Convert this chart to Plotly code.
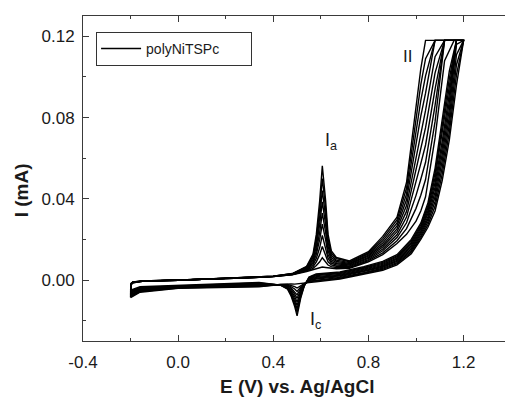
import plotly.graph_objects as go

# Potential grids (V vs. Ag/AgCl)
E_forward = [-0.200, -0.197, -0.190, -0.150, 0.000, 0.150, 0.300, 0.400, 0.480, 0.540,
             0.567, 0.581, 0.595, 0.606, 0.620, 0.630, 0.644, 0.665, 0.720, 0.800,
             0.860, 0.920, 0.960, 1.000, 1.020, 1.040, 1.080, 1.120, 1.160, 1.200]
E_reverse = [1.200, 1.170, 1.140, 1.110, 1.080, 1.050, 1.020, 0.980, 0.920, 0.860,
             0.780, 0.680, 0.580, 0.550, 0.530, 0.515, 0.500, 0.490, 0.475, 0.460,
             0.430, 0.340, 0.160, 0.000, -0.160, -0.200]

# Current (mA), forward sweep, per cycle
fwd_c01 = [-0.0050, -0.0015, -0.0009, -0.0004, 0.0000, 0.0005, 0.0011, 0.0017, 0.0026, 0.0042, 0.0050, 0.0055, 0.0060, 0.0064, 0.0062, 0.0060, 0.0058, 0.0056, 0.0058, 0.0090, 0.0125, 0.0180, 0.0225, 0.0290, 0.0340, 0.0410, 0.0700, 0.1080, 0.1180, 0.1180]
fwd_c02 = [-0.0086, -0.0016, -0.0009, -0.0004, 0.0000, 0.0005, 0.0011, 0.0017, 0.0027, 0.0045, 0.0058, 0.0072, 0.0090, 0.0110, 0.0090, 0.0074, 0.0066, 0.0062, 0.0062, 0.0096, 0.0134, 0.0194, 0.0253, 0.0353, 0.0418, 0.0495, 0.0780, 0.1180, 0.1180, 0.1180]
fwd_c03 = [-0.0082, -0.0017, -0.0010, -0.0004, 0.0000, 0.0005, 0.0011, 0.0017, 0.0027, 0.0048, 0.0066, 0.0090, 0.0125, 0.0165, 0.0125, 0.0090, 0.0075, 0.0068, 0.0066, 0.0101, 0.0144, 0.0209, 0.0282, 0.0417, 0.0496, 0.0580, 0.0860, 0.1180, 0.1180, 0.1180]
fwd_c04 = [-0.0078, -0.0017, -0.0010, -0.0005, 0.0000, 0.0005, 0.0011, 0.0018, 0.0028, 0.0050, 0.0075, 0.0108, 0.0160, 0.0220, 0.0160, 0.0108, 0.0083, 0.0074, 0.0070, 0.0107, 0.0153, 0.0223, 0.0310, 0.0480, 0.0573, 0.0665, 0.0940, 0.1180, 0.1180, 0.1180]
fwd_c05 = [-0.0074, -0.0018, -0.0011, -0.0005, -0.0001, 0.0006, 0.0011, 0.0018, 0.0029, 0.0053, 0.0083, 0.0127, 0.0200, 0.0275, 0.0198, 0.0126, 0.0092, 0.0080, 0.0074, 0.0112, 0.0163, 0.0238, 0.0338, 0.0543, 0.0651, 0.0750, 0.1020, 0.1180, 0.1180, 0.1180]
fwd_c06 = [-0.0070, -0.0019, -0.0011, -0.0005, -0.0001, 0.0006, 0.0012, 0.0018, 0.0029, 0.0056, 0.0092, 0.0145, 0.0235, 0.0330, 0.0235, 0.0145, 0.0101, 0.0086, 0.0078, 0.0118, 0.0172, 0.0252, 0.0367, 0.0607, 0.0729, 0.0835, 0.1100, 0.1180, 0.1180, 0.1180]
fwd_c07 = [-0.0066, -0.0020, -0.0012, -0.0005, -0.0001, 0.0006, 0.0012, 0.0018, 0.0030, 0.0059, 0.0100, 0.0165, 0.0275, 0.0385, 0.0272, 0.0165, 0.0111, 0.0092, 0.0082, 0.0123, 0.0182, 0.0267, 0.0395, 0.0670, 0.0807, 0.0920, 0.1180, 0.1180, 0.1180, 0.1180]
fwd_c08 = [-0.0062, -0.0020, -0.0012, -0.0006, -0.0001, 0.0006, 0.0012, 0.0019, 0.0031, 0.0062, 0.0110, 0.0185, 0.0310, 0.0440, 0.0310, 0.0185, 0.0122, 0.0098, 0.0086, 0.0129, 0.0193, 0.0281, 0.0423, 0.0733, 0.0884, 0.1005, 0.1180, 0.1180, 0.1180, 0.1180]
fwd_c09 = [-0.0058, -0.0021, -0.0013, -0.0006, -0.0001, 0.0006, 0.0012, 0.0019, 0.0031, 0.0065, 0.0119, 0.0205, 0.0350, 0.0500, 0.0350, 0.0205, 0.0133, 0.0105, 0.0090, 0.0134, 0.0204, 0.0296, 0.0452, 0.0797, 0.0962, 0.1090, 0.1180, 0.1180, 0.1180, 0.1180]
fwd_c10 = [-0.0054, -0.0022, -0.0013, -0.0006, -0.0001, 0.0006, 0.0012, 0.0019, 0.0032, 0.0068, 0.0128, 0.0226, 0.0390, 0.0562, 0.0390, 0.0226, 0.0144, 0.0111, 0.0094, 0.0140, 0.0215, 0.0310, 0.0480, 0.0860, 0.1040, 0.1180, 0.1180, 0.1180, 0.1180, 0.1180]

# Current (mA), reverse sweep, per cycle
rev_c01 = [0.1180, 0.0960, 0.0690, 0.0490, 0.0340, 0.0260, 0.0200, 0.0130, 0.0075, 0.0048, 0.0028, 0.0005, -0.0008, -0.0012, -0.0015, -0.0018, -0.0022, -0.0020, -0.0019, -0.0019, -0.0022, -0.0033, -0.0037, -0.0040, -0.0060, -0.0086]
rev_c02 = [0.1180, 0.1010, 0.0728, 0.0522, 0.0363, 0.0273, 0.0209, 0.0138, 0.0081, 0.0053, 0.0032, 0.0009, -0.0004, -0.0009, -0.0017, -0.0026, -0.0039, -0.0032, -0.0026, -0.0022, -0.0022, -0.0031, -0.0035, -0.0039, -0.0057, -0.0082]
rev_c03 = [0.1180, 0.1060, 0.0766, 0.0554, 0.0387, 0.0287, 0.0218, 0.0146, 0.0086, 0.0058, 0.0036, 0.0013, 0.0000, -0.0006, -0.0018, -0.0034, -0.0056, -0.0044, -0.0033, -0.0025, -0.0023, -0.0028, -0.0033, -0.0037, -0.0054, -0.0078]
rev_c04 = [0.1180, 0.1110, 0.0803, 0.0587, 0.0410, 0.0300, 0.0227, 0.0153, 0.0092, 0.0063, 0.0041, 0.0017, 0.0005, -0.0003, -0.0020, -0.0042, -0.0073, -0.0057, -0.0039, -0.0028, -0.0023, -0.0026, -0.0031, -0.0036, -0.0051, -0.0074]
rev_c05 = [0.1180, 0.1160, 0.0841, 0.0619, 0.0433, 0.0313, 0.0236, 0.0161, 0.0097, 0.0068, 0.0045, 0.0021, 0.0009, 0.0000, -0.0022, -0.0050, -0.0090, -0.0069, -0.0046, -0.0031, -0.0023, -0.0024, -0.0029, -0.0035, -0.0048, -0.0070]
rev_c06 = [0.1180, 0.1180, 0.0879, 0.0651, 0.0457, 0.0327, 0.0244, 0.0169, 0.0103, 0.0072, 0.0049, 0.0024, 0.0013, 0.0003, -0.0023, -0.0058, -0.0108, -0.0081, -0.0053, -0.0033, -0.0024, -0.0021, -0.0028, -0.0033, -0.0045, -0.0066]
rev_c07 = [0.1180, 0.1180, 0.0917, 0.0683, 0.0480, 0.0340, 0.0253, 0.0177, 0.0108, 0.0077, 0.0053, 0.0028, 0.0017, 0.0006, -0.0025, -0.0066, -0.0125, -0.0093, -0.0060, -0.0036, -0.0024, -0.0019, -0.0026, -0.0032, -0.0042, -0.0062]
rev_c08 = [0.1180, 0.1180, 0.0954, 0.0716, 0.0503, 0.0353, 0.0262, 0.0184, 0.0114, 0.0082, 0.0058, 0.0032, 0.0022, 0.0009, -0.0027, -0.0074, -0.0142, -0.0106, -0.0066, -0.0039, -0.0024, -0.0017, -0.0024, -0.0031, -0.0039, -0.0058]
rev_c09 = [0.1180, 0.1180, 0.0992, 0.0748, 0.0527, 0.0367, 0.0271, 0.0192, 0.0119, 0.0087, 0.0062, 0.0036, 0.0026, 0.0012, -0.0028, -0.0082, -0.0159, -0.0118, -0.0073, -0.0042, -0.0025, -0.0014, -0.0022, -0.0029, -0.0036, -0.0054]
rev_c10 = [0.1180, 0.1180, 0.1030, 0.0780, 0.0550, 0.0380, 0.0280, 0.0200, 0.0125, 0.0092, 0.0066, 0.0040, 0.0030, 0.0015, -0.0030, -0.0090, -0.0176, -0.0130, -0.0080, -0.0045, -0.0025, -0.0012, -0.0020, -0.0028, -0.0033, -0.0050]

forward_sweeps = [fwd_c01, fwd_c02, fwd_c03, fwd_c04, fwd_c05, fwd_c06, fwd_c07, fwd_c08, fwd_c09, fwd_c10]
reverse_sweeps = [rev_c01, rev_c02, rev_c03, rev_c04, rev_c05, rev_c06, rev_c07, rev_c08, rev_c09, rev_c10]

series_name = "polyNiTSPc"
x_ticks = [-0.4, 0.0, 0.4, 0.8, 1.2]
x_ticklabels = ["-0.4", "0.0", "0.4", "0.8", "1.2"]
y_ticks = [0.00, 0.04, 0.08, 0.12]
y_ticklabels = ["0.00", "0.04", "0.08", "0.12"]

FONT = "Liberation Sans, Arial, sans-serif"
INK = "#1a1a1a"

fig = go.Figure()
for i, (fw, rv) in enumerate(zip(forward_sweeps, reverse_sweeps)):
    fig.add_trace(go.Scatter(
        x=E_forward + E_reverse, y=fw + rv, mode="lines",
        line=dict(color="black", width=1.4),
        name=series_name, showlegend=(i == 0), legendgroup="cv",
    ))

axis_common = dict(
    showline=True, linecolor="#3a3a3a", linewidth=1, ticks="inside", ticklen=6,
    tickcolor="#3a3a3a", showgrid=False, zeroline=False,
    tickfont=dict(family=FONT, size=17, color=INK),
)
fig.update_xaxes(
    range=[-0.4, 1.374], tickvals=x_ticks, ticktext=x_ticklabels, mirror="ticks",
    minor=dict(dtick=0.2, tick0=0, ticks="inside", ticklen=3, tickcolor="#3a3a3a"),
    ticklabelstandoff=6, **axis_common,
)
fig.update_yaxes(
    range=[-0.03, 0.13], tickvals=y_ticks, ticktext=y_ticklabels, mirror=False,
    minor=dict(dtick=0.02, tick0=0, ticks="inside", ticklen=3, tickcolor="#3a3a3a"),
    ticklabelstandoff=4, **axis_common,
)

annotations = [
    dict(text="<b>E (V) vs. Ag/AgCl</b>", xref="paper", yref="paper", x=0.508, y=-0.141,
         showarrow=False, font=dict(family=FONT, size=19, color=INK),
         xanchor="center", yanchor="middle"),
    dict(text="<b>I (mA)</b>", xref="paper", yref="paper", x=-0.146, y=0.465, textangle=-90,
         showarrow=False, font=dict(family=FONT, size=19, color=INK),
         xanchor="center", yanchor="middle"),
    dict(text="II", x=0.963, y=0.110, showarrow=False,
         font=dict(family=FONT, size=17, color=INK), xanchor="center", yanchor="middle"),
    dict(text="I<sub>a</sub>", x=0.608, y=0.068, showarrow=False,
         font=dict(family=FONT, size=18, color=INK), xanchor="left", yanchor="middle"),
    dict(text="I<sub>c</sub>", x=0.545, y=-0.020, showarrow=False,
         font=dict(family=FONT, size=18, color=INK), xanchor="left", yanchor="middle"),
]

fig.update_layout(
    width=505, height=398,
    margin=dict(l=83, r=0, t=16, b=57),
    paper_bgcolor="white", plot_bgcolor="white",
    annotations=annotations,
    legend=dict(x=0.031, y=0.951, xanchor="left", yanchor="top", orientation="h",
                bordercolor="#333", borderwidth=1, bgcolor="white",
                font=dict(family=FONT, size=14, color=INK),
                itemwidth=40, entrywidthmode="pixels", entrywidth=100, tracegroupgap=0),
)

fig.write_html("out.html")
